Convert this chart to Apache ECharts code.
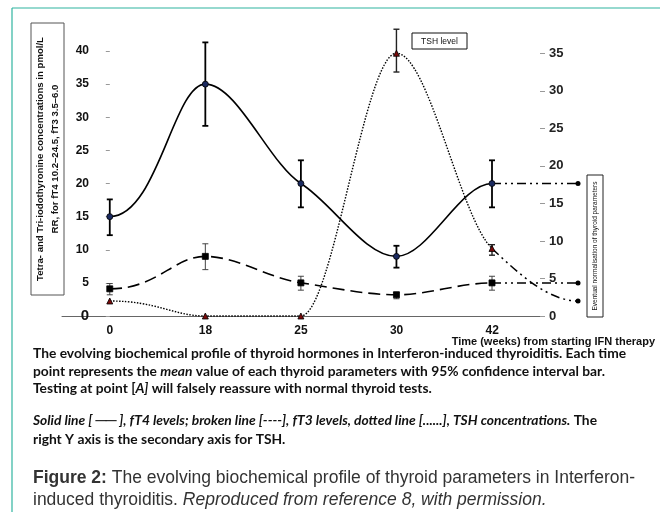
<!DOCTYPE html>
<html>
<head>
<meta charset="utf-8">
<style>
  html, body { margin: 0; padding: 0; background: #fff; }
  #chart { width: 660px; height: 512px; }
</style>
<script src="https://cdn.jsdelivr.net/npm/echarts@6/dist/echarts.min.js"></script>
</head>
<body>
<div id="chart"></div>
<script>
// time points (weeks) and their slot on the x axis
var weeks = ['0', '18', '25', '30', '42'];
var weekPos = [0, 1, 2, 3, 4];
var endPos = 4.9; // "eventual normalisation" end point

// fT4 (pmol/L), mean with 95% CI
var ft4 = [15, 35, 20, 9, 20];
var ft4Low = [12.2, 28.7, 16.4, 7.3, 16.4];
var ft4High = [17.6, 41.3, 23.5, 10.6, 23.5];
var ft4End = 20;

// fT3 (pmol/L)
var ft3 = [4.1, 9, 5, 3.2, 5];
var ft3Low = [3.2, 7.0, 3.9, 2.6, 3.9];
var ft3High = [4.9, 10.9, 6.0, 3.6, 6.0];
var ft3End = 5;

// TSH (secondary axis)
var tsh = [2, 0, 0, 35, 9];
var tshLow = [null, null, null, 32.5, 8.1];
var tshHigh = [null, null, null, 38.2, 9.5];
var tshEnd = 2;

var rightTicks = [0, 5, 10, 15, 20, 25, 30, 35];

var chart = echarts.init(document.getElementById('chart'));

function points(vals) {
  return weekPos.map(function (x, i) { return [x, vals[i]]; });
}

// smooth curve through the mean values plus the dash-dot tail,
// flat at turning points like the hand-smoothed original
function curve(vals, endVal, yIndex, width, dash) {
  var xs = weekPos.concat([endPos]);
  var ys = vals.concat([endVal]);
  return {
    type: 'custom',
    xAxisIndex: 1,
    yAxisIndex: yIndex,
    z: 3,
    silent: true,
    data: xs.map(function (x, i) { return [x, ys[i]]; }),
    renderItem: function (params, api) {
      if (params.dataIndex !== 0) return null;
      var p = xs.map(function (x, i) { return api.coord([x, ys[i]]); });
      var m = p.map(function (pt, i) {
        if (i === 0 || i === p.length - 1) return 0;
        var d0 = pt[1] - p[i - 1][1], d1 = p[i + 1][1] - pt[1];
        if (d0 * d1 <= 0) return 0;
        return 0.7 * (p[i + 1][1] - p[i - 1][1]) / (p[i + 1][0] - p[i - 1][0]);
      });
      function seg(from, to) {
        var d = 'M' + p[from][0] + ' ' + p[from][1];
        for (var i = from; i < to; i++) {
          var w = p[i + 1][0] - p[i][0];
          var h0 = i === 0 ? w / 2 : w / 3;
          var h1 = w / 3;
          d += ' C' + (p[i][0] + h0) + ' ' + (p[i][1] + m[i] * h0) + ' ' +
               (p[i + 1][0] - h1) + ' ' + (p[i + 1][1] - m[i + 1] * h1) + ' ' +
               p[i + 1][0] + ' ' + p[i + 1][1];
        }
        return d;
      }
      var n = weekPos.length - 1;
      return {
        type: 'group',
        children: [
          { type: 'path', shape: { pathData: seg(0, n) },
            style: { fill: 'none', stroke: '#000', lineWidth: width, lineDash: dash } },
          { type: 'path', shape: { pathData: seg(n, n + 1) },
            style: { fill: 'none', stroke: '#000', lineWidth: 1.5, lineDash: [9, 4, 2, 4, 2, 4] } }
        ]
      };
    }
  };
}

function markers(vals, endVal, yIndex, symbol, color) {
  var data = points(vals).map(function (v) { return { value: v }; });
  data.push({ value: [endPos, endVal], symbol: 'circle', symbolSize: 5, itemStyle: { color: '#000', borderWidth: 0 } });
  return {
    type: 'scatter',
    xAxisIndex: 1,
    yAxisIndex: yIndex,
    clip: false,
    z: 5,
    symbol: symbol,
    symbolSize: 6,
    data: data,
    itemStyle: { color: color, borderColor: '#000', borderWidth: 0.8, opacity: 1 }
  };
}

function errorBars(low, high, yIndex, width, color, cap) {
  var data = [];
  weekPos.forEach(function (x, i) {
    if (low[i] != null) data.push([x, low[i], high[i]]);
  });
  return {
    type: 'custom',
    xAxisIndex: 1,
    yAxisIndex: yIndex,
    z: 4,
    silent: true,
    encode: { x: 0, y: [1, 2] },
    data: data,
    renderItem: function (params, api) {
      var x = api.value(0);
      var lo = api.coord([x, api.value(1)]);
      var hi = api.coord([x, api.value(2)]);
      var st = { stroke: color, lineWidth: width };
      return {
        type: 'group',
        children: [
          { type: 'line', shape: { x1: lo[0], y1: lo[1], x2: hi[0], y2: hi[1] }, style: st },
          { type: 'line', shape: { x1: hi[0] - cap, y1: hi[1], x2: hi[0] + cap, y2: hi[1] }, style: st },
          { type: 'line', shape: { x1: lo[0] - cap, y1: lo[1], x2: lo[0] + cap, y2: lo[1] }, style: st }
        ]
      };
    }
  };
}

chart.setOption({
  animation: false,
  grid: [
    { left: 62, right: 120, top: 51, bottom: 196 },
    { left: 62, right: 82, top: 51, bottom: 196 }
  ],
  xAxis: [
    {
      type: 'value',
      min: -0.5,
      max: 4.5,
      splitLine: { show: false },
      axisLine: { lineStyle: { color: '#666', width: 1 } },
      axisTick: { show: false },
      axisLabel: {
        customValues: weekPos,
        formatter: function (v) { return weeks[Math.round(v)]; },
        fontFamily: 'Liberation Sans',
        fontWeight: 'bold',
        fontSize: 12,
        color: '#111',
        margin: 9
      }
    },
    { type: 'value', gridIndex: 1, min: -0.5, max: 4.9, show: false }
  ],
  yAxis: [
    {
      type: 'value',
      min: 0,
      max: 40,
      interval: 5,
      offset: -31,
      splitLine: { show: false },
      axisLine: { show: false },
      axisTick: { show: true, length: 4, lineStyle: { color: '#999' } },
      axisLabel: {
        fontFamily: 'Liberation Sans',
        fontWeight: 'bold',
        fontSize: 12,
        color: '#111',
        margin: 4,
        formatter: function (v) { return v === 0 ? '{z|0}' : String(v); },
        rich: { z: { fontFamily: 'Liberation Sans', fontWeight: 'bold', fontSize: 15, color: '#111' } }
      }
    },
    {
      type: 'value',
      position: 'right',
      min: 0,
      max: 35.3,
      splitLine: { show: false },
      axisLine: { show: false },
      axisTick: { show: true, length: 5, customValues: rightTicks, lineStyle: { color: '#999' } },
      axisLabel: {
        customValues: rightTicks,
        fontFamily: 'Liberation Sans',
        fontWeight: 'bold',
        fontSize: 13,
        color: '#222',
        margin: 9
      }
    },
    { type: 'value', gridIndex: 1, min: 0, max: 40, show: false },
    { type: 'value', gridIndex: 1, min: 0, max: 35.3, show: false }
  ],
  series: [
    curve(ft4, ft4End, 2, 1.6, null),
    curve(ft3, ft3End, 2, 1.6, [12, 6]),
    curve(tsh, tshEnd, 3, 1.4, [1.5, 1.5]),
    errorBars(ft4Low, ft4High, 2, 1.8, '#000', 3),
    errorBars(ft3Low, ft3High, 2, 1, '#444', 3),
    errorBars(tshLow, tshHigh, 3, 1.4, '#222', 3),
    markers(ft4, ft4End, 2, 'circle', '#1b2a60'),
    markers(ft3, ft3End, 2, 'rect', '#000'),
    markers(tsh, tshEnd, 3, 'triangle', '#7a0a0a')
  ],
  graphic: [
    // teal frame
    { type: 'line', shape: { x1: 12, y1: 8, x2: 660, y2: 8 }, style: { stroke: '#2fb4a0', lineWidth: 1.2 } },
    { type: 'line', shape: { x1: 12, y1: 8, x2: 12, y2: 512 }, style: { stroke: '#2fb4a0', lineWidth: 1.2 } },
    // left axis title box
    { type: 'rect', shape: { x: 31, y: 23, width: 33, height: 272 }, style: { fill: 'none', stroke: '#555', lineWidth: 1 } },
    {
      type: 'text', x: 47.5, y: 159, rotation: Math.PI / 2,
      style: {
        text: 'Tetra- and Tri-iodothyronine concentrations in pmol/L\nRR, for fT4 10.2–24.5, fT3 3.5–6.0',
        fontFamily: 'Liberation Sans', fontWeight: 'bold', fontSize: 9.6, lineHeight: 15,
        fill: '#111', align: 'center', verticalAlign: 'middle'
      }
    },
    // TSH level box
    { type: 'rect', shape: { x: 412, y: 33, width: 55, height: 16 }, style: { fill: '#fff', stroke: '#111', lineWidth: 1 } },
    {
      type: 'text', x: 439.5, y: 41.5,
      style: { text: 'TSH level', fontFamily: 'Liberation Sans', fontSize: 8.5, fill: '#111', align: 'center', verticalAlign: 'middle' }
    },
    // eventual normalisation box
    { type: 'rect', shape: { x: 587, y: 175, width: 16, height: 142 }, style: { fill: 'none', stroke: '#222', lineWidth: 1 } },
    {
      type: 'text', x: 595.5, y: 246, rotation: Math.PI / 2,
      style: { text: 'Eventual normalisation of thyroid parameters', fontFamily: 'Liberation Sans', fontSize: 6.5, fill: '#111', align: 'center', verticalAlign: 'middle' }
    },
    // x axis title
    {
      type: 'text', x: 655, y: 342,
      style: { text: 'Time (weeks) from starting IFN therapy', fontFamily: 'Liberation Sans', fontWeight: 'bold', fontSize: 11, fill: '#111', align: 'right', verticalAlign: 'middle' }
    },
    // description
    {
      type: 'text', x: 33, y: 345,
      style: {
        text: 'The evolving biochemical profile of thyroid hormones in Interferon-induced thyroiditis. Each time\n' +
              'point represents the {i|mean} value of each thyroid parameters with 95% confidence interval bar.\n' +
              'Testing at point [{i|A]} will falsely reassure with normal thyroid tests.',
        fontFamily: 'Lato', fontWeight: 'bold', fontSize: 13.8, lineHeight: 17.5,
        fill: '#111', verticalAlign: 'top',
        rich: { i: { fontFamily: 'Lato', fontWeight: 'bold', fontStyle: 'italic', fontSize: 13.8, lineHeight: 17.5, fill: '#111' } }
      }
    },
    {
      type: 'text', x: 33, y: 411,
      style: {
        text: '{i|Solid line [ ── ], fT4 levels; broken line [----], fT3 levels, dotted line [......], TSH concentrations.} The\n' +
              'right Y axis is the secondary axis for TSH.',
        fontFamily: 'Lato', fontWeight: 'bold', fontSize: 13.8, lineHeight: 19,
        fill: '#111', verticalAlign: 'top',
        rich: { i: { fontFamily: 'Lato', fontWeight: 'bold', fontStyle: 'italic', fontSize: 13.8, lineHeight: 19, fill: '#111' } }
      }
    },
    // figure caption
    {
      type: 'text', x: 33, y: 467,
      style: {
        text: '{b|Figure 2:} The evolving biochemical profile of thyroid parameters in Interferon-\n' +
              'induced thyroiditis. {i|Reproduced from reference 8, with permission.}',
        fontFamily: 'Liberation Sans', fontSize: 17.5, lineHeight: 22,
        fill: '#333', verticalAlign: 'top',
        rich: {
          b: { fontFamily: 'Liberation Sans', fontWeight: 'bold', fontSize: 17.5, lineHeight: 22, fill: '#333' },
          i: { fontFamily: 'Liberation Sans', fontStyle: 'italic', fontSize: 17.5, lineHeight: 22, fill: '#333' }
        }
      }
    }
  ]
});
</script>
</body>
</html>
